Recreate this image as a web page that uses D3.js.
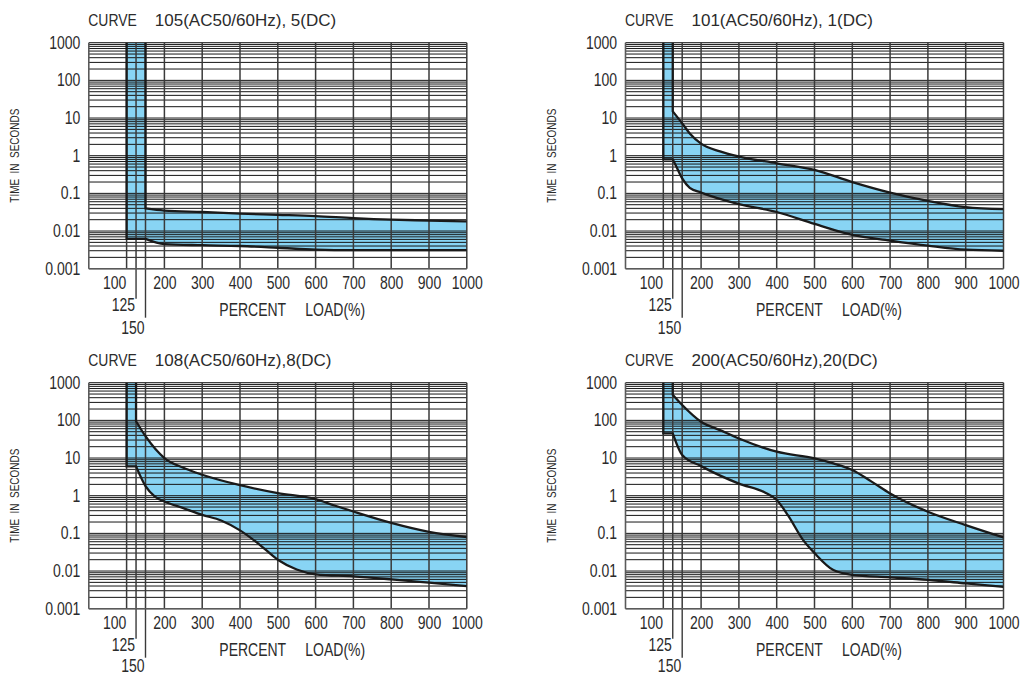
<!DOCTYPE html>
<html><head><meta charset="utf-8">
<script src="https://cdn.jsdelivr.net/npm/d3@7"></script>
<style>
html,body{margin:0;padding:0;background:#fff;}
svg{display:block;}
text{font-family:"Liberation Sans",Arial,Helvetica,sans-serif;fill:#2b2b2b;}
</style></head><body>
<svg id="chart" width="1024" height="675"></svg>
<script>
// ---------- data ----------
const xTicks = [100,200,300,400,500,600,700,800,900,1000];
const xTickLabels = ["100","200","300","400","500","600","700","800","900","1000"];
const xSubTicks = [125,150];
const xSubTickLabels = ["125","150"];
const yTicks = [0.001,0.01,0.1,1,10,100,1000];
const yTickLabels = ["0.001","0.01","0.1","1","10","100","1000"];
const titleLead = "CURVE";
const titleRest = ["105(AC50/60Hz), 5(DC)","101(AC50/60Hz), 1(DC)","108(AC50/60Hz),8(DC)","200(AC50/60Hz),20(DC)"];
const xTitleA = "PERCENT";
const xTitleB = "LOAD(%)";
const yTitle = "TIME  IN  SECONDS";
const bandStart = [100,100,100,100];
const upperStep = [150,125,125,125];

const upper105 = [[150,0.04],[200,0.035],[300,0.032],[400,0.029],[500,0.027],[600,0.025],[700,0.022],[800,0.020],[900,0.019],[1000,0.018]];
const lower105 = [[150,0.0062],[200,0.0045],[300,0.0042],[400,0.004],[500,0.0036],[600,0.0032],[700,0.0031],[800,0.0031],[900,0.0031],[1000,0.0031]];

const upper101 = [[125,15],[150,7.2],[170,3.9],[200,2.1],[250,1.3],[300,0.95],[400,0.63],[500,0.42],[600,0.2],[700,0.105],[800,0.063],[900,0.043],[1000,0.038]];
const lower101 = [[125,0.8],[135,0.5],[150,0.25],[170,0.14],[200,0.105],[300,0.052],[400,0.032],[500,0.0155],[600,0.0079],[700,0.0056],[800,0.0041],[900,0.0032],[1000,0.003]];

const upper108 = [[125,95],[150,38],[200,10],[250,5.5],[300,3.6],[400,1.9],[500,1.17],[600,0.81],[650,0.55],[700,0.38],[800,0.19],[900,0.11],[1000,0.08]];
const lower108 = [[125,6],[150,1.8],[175,0.95],[200,0.7],[250,0.47],[300,0.31],[350,0.22],[400,0.12],[450,0.052],[500,0.02],[550,0.011],[600,0.0082],[700,0.0072],[800,0.006],[900,0.0049],[1000,0.004]];

const upper200 = [[125,480],[150,256],[200,92],[250,55],[300,33],[400,14.7],[500,9.8],[550,7.2],[600,4.8],[650,2.4],[700,1.15],[800,0.376],[900,0.166],[1000,0.078]];
const lower200 = [[125,45],[150,12],[200,6.1],[300,2.1],[370,1.2],[400,0.77],[430,0.3],[470,0.066],[500,0.03],[550,0.0106],[600,0.0079],[700,0.0068],[800,0.0058],[900,0.0047],[1000,0.0038]];

const uppers = [upper105, upper101, upper108, upper200];
const lowers = [lower105, lower101, lower108, lower200];

// ---------- layout ----------
const W = 378, H = 226;
const origins = [[88.8,42.7],[625.5,42.7],[88.8,382.7],[625.5,382.7]];
const FILL = "#88d4f4";
const svg = d3.select("#chart");
const defs = svg.append("defs");

origins.forEach(([x0,y0], i) => {
  const x = d3.scaleLinear().domain([0,1000]).range([x0, x0 + W]);
  const y = d3.scaleLog().domain([0.001,1000]).range([y0 + H, y0]);
  const g = svg.append("g");
  const yTop = y0, yBot = y0 + H, xR = x0 + W;
  const xL = x(bandStart[i]);
  const line = d3.line().x(d => x(d[0])).y(d => y(d[1])).curve(d3.curveMonotoneX);
  const up = line(uppers[i]);
  const lo = line(lowers[i]);
  const flatY = y(lowers[i][0][1]);

  defs.append("clipPath").attr("id", "cu" + i).append("path")
    .attr("d", `M${xL},${yTop}L${x(upperStep[i])},${yTop}L${up.slice(1)}L${xR},${yBot}L${xL},${yBot}Z`);
  defs.append("clipPath").attr("id", "plot" + i).append("rect")
    .attr("x", x0).attr("y", y0).attr("width", W).attr("height", H);

  g.append("g").attr("clip-path", `url(#plot${i})`)
   .append("path")
    .attr("clip-path", `url(#cu${i})`)
    .attr("d", `M${xL},${yTop}L${xL},${flatY}L${lo.slice(1)}L${xR},${yTop}Z`)
    .attr("fill", FILL);

  g.append("g").selectAll("line").data(y.ticks()).join("line")
    .attr("x1", x0).attr("x2", xR)
    .attr("y1", d => y(d)).attr("y2", d => y(d))
    .attr("stroke", "#151515").attr("stroke-width", 1);

  g.append("g").selectAll("line").data(xTicks.concat(xSubTicks)).join("line")
    .attr("x1", d => x(d)).attr("x2", d => x(d))
    .attr("y1", yTop).attr("y2", yBot)
    .attr("stroke", "#3a3a3a").attr("stroke-width", 1.5);

  g.append("g").selectAll("line").data(xSubTicks).join("line")
    .attr("x1", d => x(d)).attr("x2", d => x(d))
    .attr("y1", yBot).attr("y2", (d, k) => yBot + (k === 0 ? 30 : 49))
    .attr("stroke", "#3a3a3a").attr("stroke-width", 1.4);

  g.append("line").attr("x1", x0).attr("x2", x0).attr("y1", yTop).attr("y2", yBot)
    .attr("stroke", "#5a5a5a").attr("stroke-width", 1.6);
  g.append("line").attr("x1", x0).attr("x2", xR).attr("y1", yBot).attr("y2", yBot)
    .attr("stroke", "#5a5a5a").attr("stroke-width", 1.6);

  const sg = g.append("g").attr("clip-path", `url(#plot${i})`);
  sg.append("path")
    .attr("d", `M${x(upperStep[i])},${yTop}L${up.slice(1)}`)
    .attr("fill", "none").attr("stroke", "#1a1a1a").attr("stroke-width", 2.3);
  sg.append("path")
    .attr("d", `M${xL},${yTop}L${xL},${flatY}L${lo.slice(1)}`)
    .attr("fill", "none").attr("stroke", "#1a1a1a").attr("stroke-width", 2.3);

  const sx = 0.8;
  const ya = g.append("g").attr("transform", `translate(${x0},0)`)
    .call(d3.axisLeft(y).tickValues(yTicks).tickFormat((d, k) => yTickLabels[k]).tickSize(0).tickPadding(0));
  ya.select(".domain").remove();
  ya.attr("font-family", null).attr("font-size", null);
  ya.selectAll("text").attr("font-size", 17.5).attr("x", -8.5 / sx)
    .attr("transform", `scale(${sx},1)`).attr("fill", "#2b2b2b");

  const xa = g.append("g").attr("transform", `translate(0,${yBot})`)
    .call(d3.axisBottom(x).tickValues(xTicks).tickFormat((d, k) => xTickLabels[k]).tickSize(0).tickPadding(7.8));
  xa.select(".domain").remove();
  xa.attr("font-family", null).attr("font-size", null);
  xa.selectAll("text").attr("font-size", 17.5)
    .attr("x", d => (d === 100 ? -12.5 : 0) / sx)
    .attr("transform", `scale(${sx},1)`).attr("fill", "#2b2b2b");

  const lowRow = i >= 2;
  g.append("g").selectAll("text").data(xSubTicks).join("text")
    .attr("transform", (d, k) => `translate(${x(d) - 1},${yBot + (k === 0 ? 36 : (lowRow ? 57 : 59.5))}) scale(${sx},1)`)
    .attr("text-anchor", "end").attr("dy", "0.35em").attr("font-size", 17.5)
    .text((d, k) => xSubTickLabels[k]);

  g.append("text").attr("transform", `translate(${x0 + 130.5},${yBot + 41.5}) scale(${sx},1)`)
    .attr("dy", "0.35em").attr("font-size", 17.5).text(xTitleA);
  g.append("text").attr("transform", `translate(${x0 + 216.5},${yBot + 41.5}) scale(${sx},1)`)
    .attr("dy", "0.35em").attr("font-size", 17.5).text(xTitleB);

  g.append("text")
    .attr("transform", `translate(${x0 - 69.5},${y0 + H / 2}) rotate(-90)`)
    .attr("text-anchor", "middle").attr("font-size", 13)
    .attr("textLength", 94).attr("lengthAdjust", "spacingAndGlyphs")
    .style("white-space", "pre")
    .text(yTitle);

  g.append("text").attr("transform", `translate(${x0 - 0.5},${y0 - 17}) scale(0.82,1)`)
    .attr("font-size", 17).text(titleLead);
  g.append("text").attr("x", x0 + 66).attr("y", y0 - 17)
    .attr("font-size", 17).text(titleRest[i]);
});
</script>
</body></html>
